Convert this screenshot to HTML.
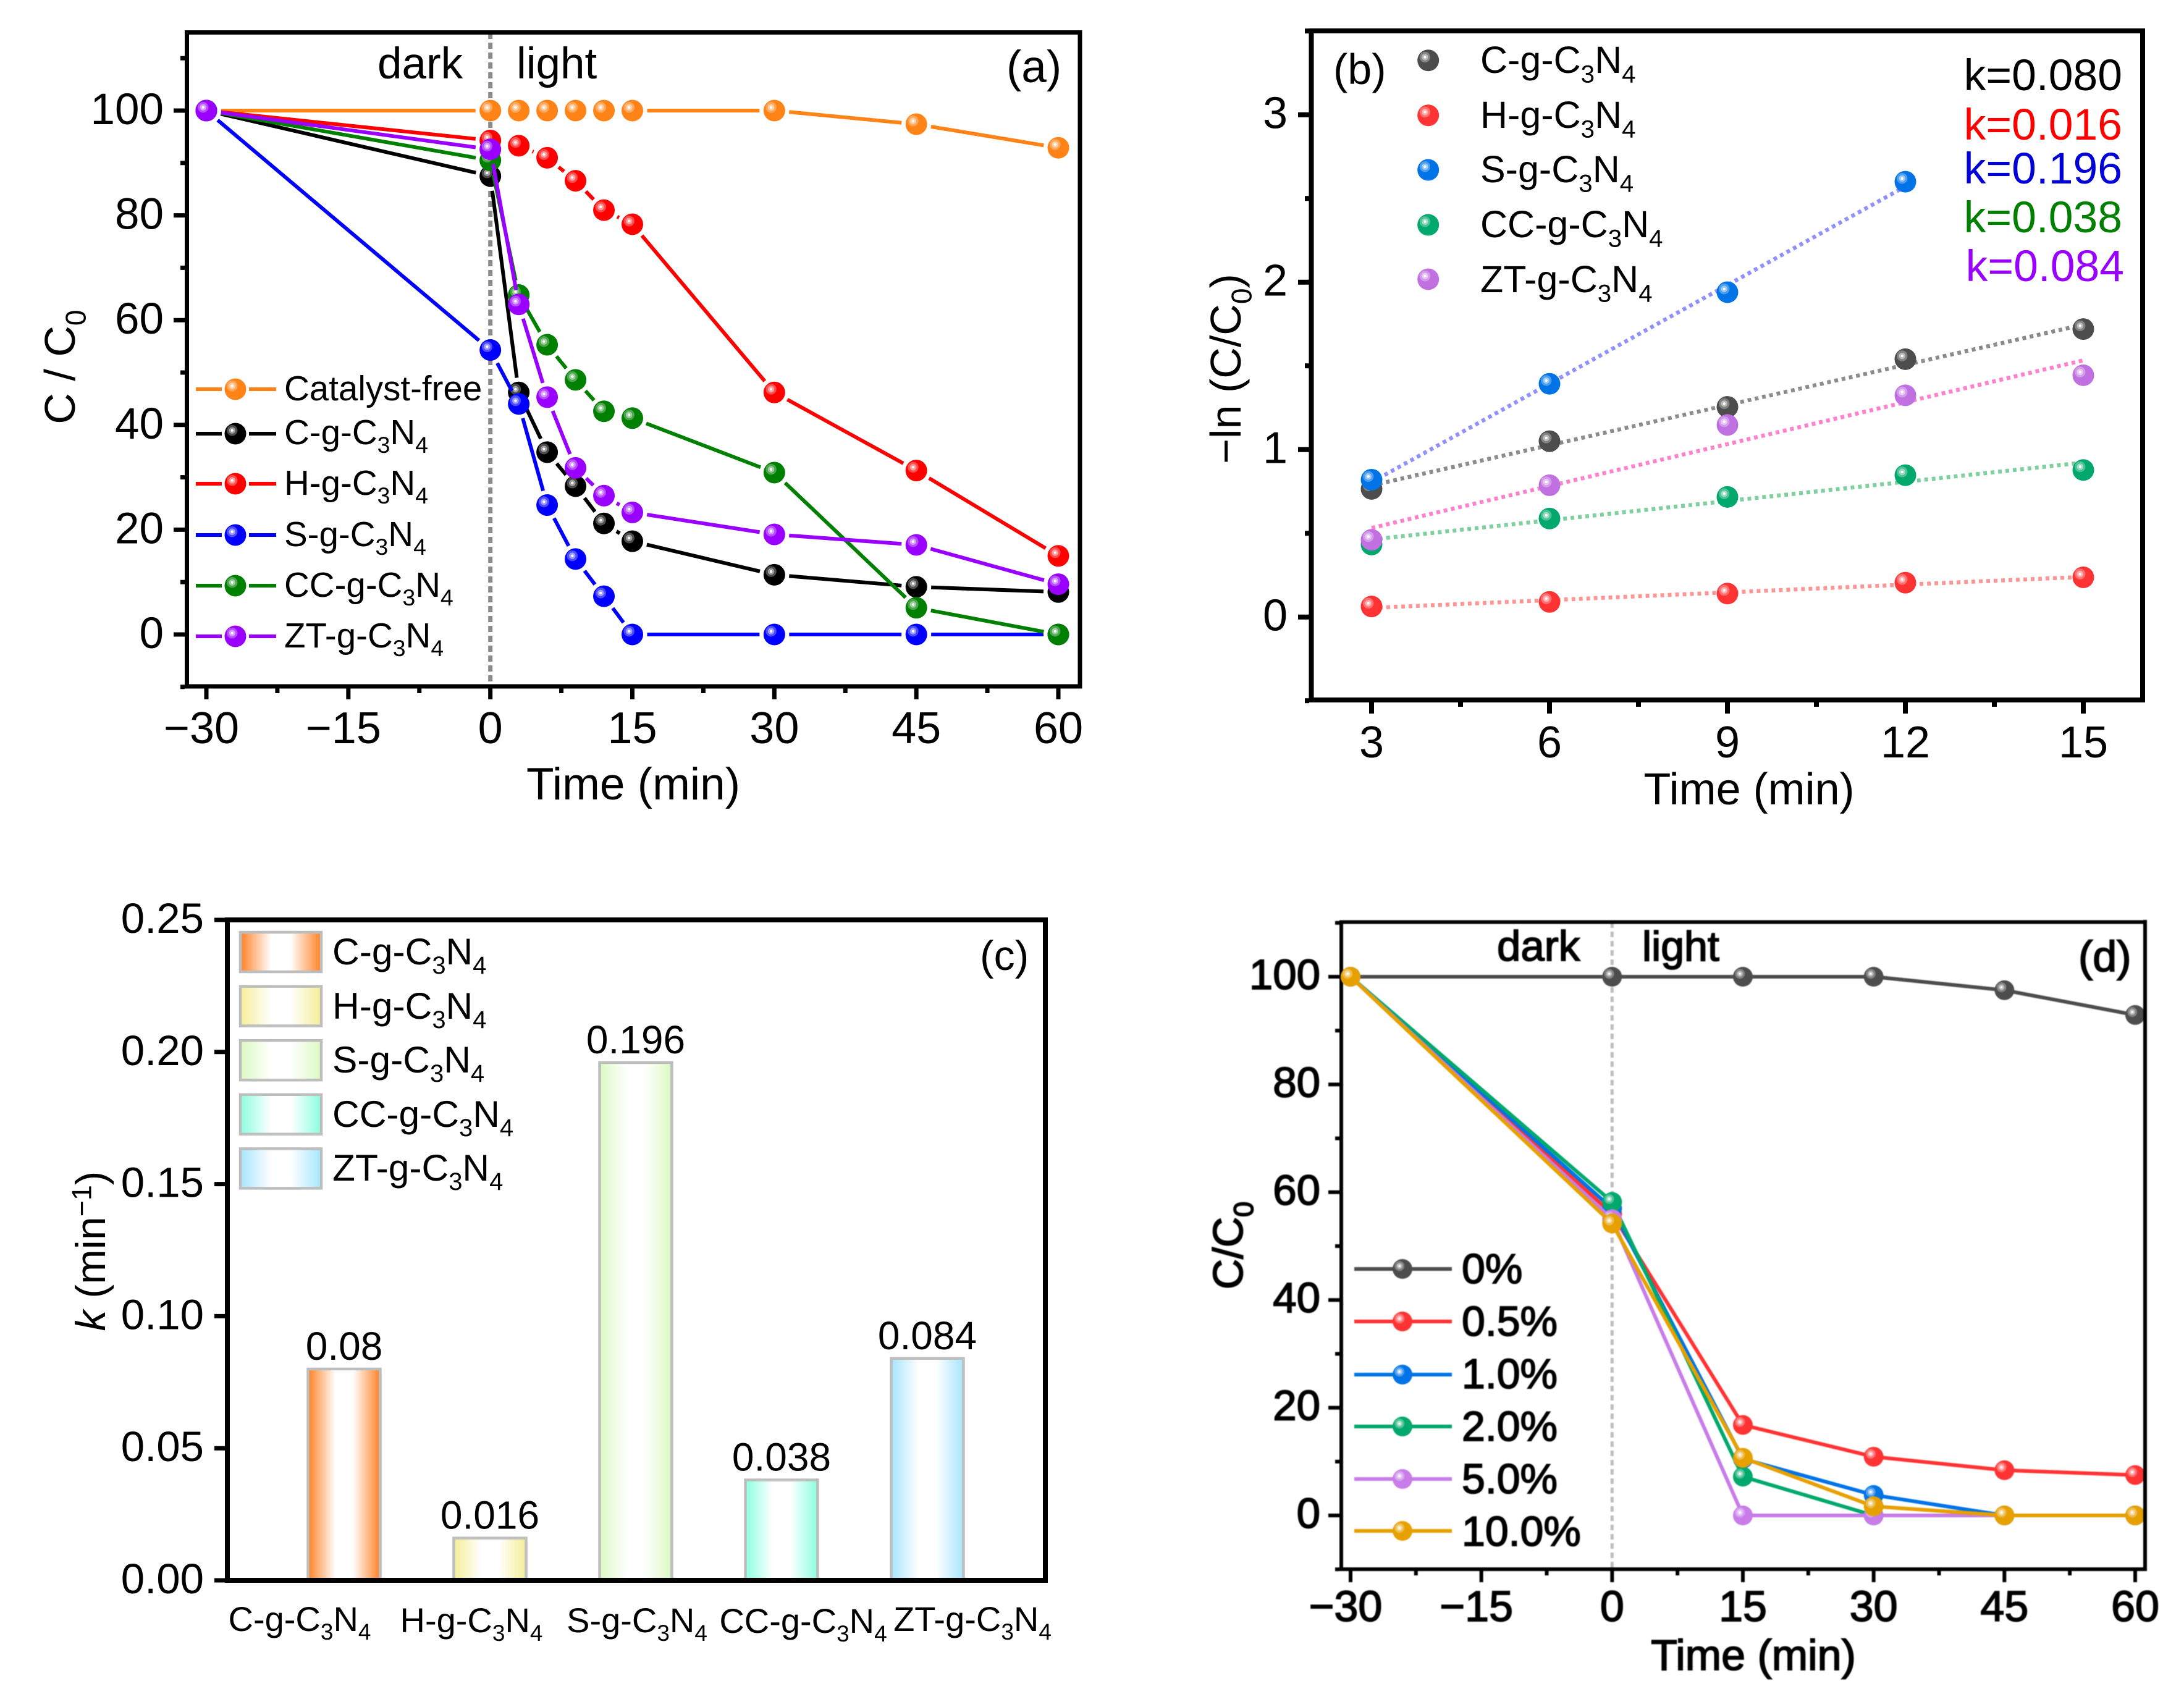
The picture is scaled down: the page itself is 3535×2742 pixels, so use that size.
<!DOCTYPE html>
<html lang="en">
<head>
<meta charset="utf-8">
<title>Photocatalytic degradation charts</title>
<style>
html,body{margin:0;padding:0;background:#fff;width:3535px;height:2742px;overflow:hidden}
svg{display:block;font-family:"Liberation Sans",sans-serif;fill:#000}
.s{font-size:.66em}
.hv{stroke:#000;stroke-width:1.8px}
.soft{filter:blur(.8px)}
</style>
</head>
<body>
<svg id="figure" xmlns="http://www.w3.org/2000/svg" width="3535" height="2742" viewBox="0 0 3535 2742">
<defs>
<linearGradient id="grad-c"><stop offset="0" stop-color="#FF8126"/><stop offset=".38" stop-color="#fff"/><stop offset=".62" stop-color="#fff"/><stop offset="1" stop-color="#FF8126"/></linearGradient>
<linearGradient id="grad-h"><stop offset="0" stop-color="#F5EE96"/><stop offset=".38" stop-color="#fff"/><stop offset=".62" stop-color="#fff"/><stop offset="1" stop-color="#F5EE96"/></linearGradient>
<linearGradient id="grad-s"><stop offset="0" stop-color="#DBF9C2"/><stop offset=".38" stop-color="#fff"/><stop offset=".62" stop-color="#fff"/><stop offset="1" stop-color="#DBF9C2"/></linearGradient>
<linearGradient id="grad-cc"><stop offset="0" stop-color="#8AFFE0"/><stop offset=".38" stop-color="#fff"/><stop offset=".62" stop-color="#fff"/><stop offset="1" stop-color="#8AFFE0"/></linearGradient>
<linearGradient id="grad-zt"><stop offset="0" stop-color="#A6E6FF"/><stop offset=".38" stop-color="#fff"/><stop offset=".62" stop-color="#fff"/><stop offset="1" stop-color="#A6E6FF"/></linearGradient>
</defs>

<g id="panel-a"></g>
<g id="panel-b"></g>
<g id="panel-c"></g>
<g id="panel-d" class="soft"></g>

<!-- Panel a text -->
<g>
<text x="611" y="127" font-size="71">dark</text>
<text x="836" y="127" font-size="71">light</text>
<text x="1629" y="133" font-size="73">(a)</text>
<text x="1025" y="1294" font-size="73" text-anchor="middle">Time (min)</text>
<text transform="translate(121,594) rotate(-90)" font-size="70" text-anchor="middle">C / C<tspan class="s" dy=".38em">0</tspan></text>
<g font-size="56.5">
<text x="460" y="648">Catalyst-free</text>
<text x="460" y="719">C-g-C<tspan class="s" dy=".38em">3</tspan><tspan dy="-.25em">N</tspan><tspan class="s" dy=".38em">4</tspan></text>
<text x="460" y="801">H-g-C<tspan class="s" dy=".38em">3</tspan><tspan dy="-.25em">N</tspan><tspan class="s" dy=".38em">4</tspan></text>
<text x="460" y="884">S-g-C<tspan class="s" dy=".38em">3</tspan><tspan dy="-.25em">N</tspan><tspan class="s" dy=".38em">4</tspan></text>
<text x="460" y="966">CC-g-C<tspan class="s" dy=".38em">3</tspan><tspan dy="-.25em">N</tspan><tspan class="s" dy=".38em">4</tspan></text>
<text x="460" y="1048">ZT-g-C<tspan class="s" dy=".38em">3</tspan><tspan dy="-.25em">N</tspan><tspan class="s" dy=".38em">4</tspan></text>
</g>
</g>

<!-- Panel b text -->
<g>
<text x="2158" y="136" font-size="70">(b)</text>
<text x="2831" y="1302" font-size="72" text-anchor="middle">Time (min)</text>
<text transform="translate(2008,597) rotate(-90)" font-size="70" text-anchor="middle">−ln (C/C<tspan class="s" dy=".38em">0</tspan><tspan dy="-.25em">)</tspan></text>
<g font-size="61">
<text x="2396" y="118">C-g-C<tspan class="s" dy=".38em">3</tspan><tspan dy="-.25em">N</tspan><tspan class="s" dy=".38em">4</tspan></text>
<text x="2396" y="207">H-g-C<tspan class="s" dy=".38em">3</tspan><tspan dy="-.25em">N</tspan><tspan class="s" dy=".38em">4</tspan></text>
<text x="2396" y="295">S-g-C<tspan class="s" dy=".38em">3</tspan><tspan dy="-.25em">N</tspan><tspan class="s" dy=".38em">4</tspan></text>
<text x="2396" y="384">CC-g-C<tspan class="s" dy=".38em">3</tspan><tspan dy="-.25em">N</tspan><tspan class="s" dy=".38em">4</tspan></text>
<text x="2396" y="473">ZT-g-C<tspan class="s" dy=".38em">3</tspan><tspan dy="-.25em">N</tspan><tspan class="s" dy=".38em">4</tspan></text>
</g>
<g font-size="71.5" text-anchor="end">
<text x="3435" y="146" fill="#000000">k=0.080</text>
<text x="3435" y="226" fill="#FF0000">k=0.016</text>
<text x="3435" y="297" fill="#0000D8">k=0.196</text>
<text x="3435" y="376" fill="#008000">k=0.038</text>
<text x="3438" y="455" fill="#9900FF">k=0.084</text>
</g>
</g>

<!-- Panel c text -->
<g>
<text x="1586" y="1570" font-size="68">(c)</text>
<text transform="translate(170,2025) rotate(-90)" font-size="68" text-anchor="middle"><tspan font-style="italic">k</tspan> (min<tspan class="s" dy="-.5em">−1</tspan><tspan dy=".33em">)</tspan></text>
<g font-size="60.5">
<text x="538" y="1561">C-g-C<tspan class="s" dy=".38em">3</tspan><tspan dy="-.25em">N</tspan><tspan class="s" dy=".38em">4</tspan></text>
<text x="538" y="1649">H-g-C<tspan class="s" dy=".38em">3</tspan><tspan dy="-.25em">N</tspan><tspan class="s" dy=".38em">4</tspan></text>
<text x="538" y="1736">S-g-C<tspan class="s" dy=".38em">3</tspan><tspan dy="-.25em">N</tspan><tspan class="s" dy=".38em">4</tspan></text>
<text x="538" y="1824">CC-g-C<tspan class="s" dy=".38em">3</tspan><tspan dy="-.25em">N</tspan><tspan class="s" dy=".38em">4</tspan></text>
<text x="538" y="1911">ZT-g-C<tspan class="s" dy=".38em">3</tspan><tspan dy="-.25em">N</tspan><tspan class="s" dy=".38em">4</tspan></text>
</g>
<g font-size="56" text-anchor="middle">
<text x="485" y="2640">C-g-C<tspan class="s" dy=".38em">3</tspan><tspan dy="-.25em">N</tspan><tspan class="s" dy=".38em">4</tspan></text>
<text x="763" y="2642">H-g-C<tspan class="s" dy=".38em">3</tspan><tspan dy="-.25em">N</tspan><tspan class="s" dy=".38em">4</tspan></text>
<text x="1031" y="2642">S-g-C<tspan class="s" dy=".38em">3</tspan><tspan dy="-.25em">N</tspan><tspan class="s" dy=".38em">4</tspan></text>
<text x="1300" y="2643">CC-g-C<tspan class="s" dy=".38em">3</tspan><tspan dy="-.25em">N</tspan><tspan class="s" dy=".38em">4</tspan></text>
<text x="1574" y="2640">ZT-g-C<tspan class="s" dy=".38em">3</tspan><tspan dy="-.25em">N</tspan><tspan class="s" dy=".38em">4</tspan></text>
</g>
</g>

<!-- Panel d text -->
<g class="hv soft">
<text x="2423" y="1555" font-size="69">dark</text>
<text x="2658" y="1555" font-size="68">light</text>
<text x="3364" y="1572" font-size="70">(d)</text>
<text x="2838" y="2703" font-size="70" text-anchor="middle">Time (min)</text>
<text transform="translate(2011,2016) rotate(-90)" font-size="68" text-anchor="middle">C/C<tspan class="s" dy=".38em">0</tspan></text>
<g font-size="68">
<text x="2366" y="2077">0%</text>
<text x="2366" y="2162">0.5%</text>
<text x="2366" y="2247">1.0%</text>
<text x="2366" y="2332">2.0%</text>
<text x="2366" y="2417">5.0%</text>
<text x="2366" y="2502">10.0%</text>
</g>
</g>
</svg>

<script>
// ---------- Panel (a) data ----------
const timeA = [-30, 0, 3, 6, 9, 12, 15, 30, 45, 60];
const catalystFree = [100, 100, 100, 100, 100, 100, 100, 100, 97.4, 92.9];
const cN = [100, 87.5, 46.2, 34.8, 28.3, 21.2, 17.8, 11.4, 9.1, 8.1];
const hN = [100, 94.3, 93.3, 91, 86.6, 81, 78.3, 46.2, 31.3, 15];
const sN = [100, 54.3, 44, 24.7, 14.4, 7.3, 0, 0, 0, 0];
const ccN = [100, 90.5, 64.8, 55.3, 48.6, 42.6, 41.3, 30.9, 5.1, 0];
const ztN = [100, 92.6, 63, 45.3, 31.8, 26.5, 23.3, 19.1, 17.1, 9.6];
const xTicksMajor = [-30, -15, 0, 15, 30, 45, 60];
const xTicksMinor = [-22.5, -7.5, 7.5, 22.5, 37.5, 52.5];
const yTicksMajorPct = [0, 20, 40, 60, 80, 100];
const yTicksMinorPct = [-10, 10, 30, 50, 70, 90, 110];

// ---------- Panel (b) data ----------
const timeB = [3, 6, 9, 12, 15];
const lnC = [0.765, 1.05, 1.255, 1.54, 1.72];
const lnH = [0.063, 0.09, 0.14, 0.205, 0.237];
const lnS = [0.82, 1.393, 1.94, 2.6];
const lnCC = [0.433, 0.588, 0.717, 0.847, 0.878];
const lnZT = [0.461, 0.787, 1.147, 1.324, 1.444];
const xTicksMajorB = [3, 6, 9, 12, 15];
const xTicksMinorB = [4.5, 7.5, 10.5, 13.5];
const yTicksMajorB = [0, 1, 2, 3];
const yTicksMinorB = [-0.5, 0.5, 1.5, 2.5, 3.5];

// ---------- Panel (c) data ----------
const rateKeys = ['c', 'h', 's', 'cc', 'zt'];
const rateValues = [0.08, 0.016, 0.196, 0.038, 0.084];
const yTicksC = [0, 0.05, 0.1, 0.15, 0.2, 0.25];

// ---------- Panel (d) data ----------
const timeD = [-30, 0, 15, 30, 45, 60];
const pct0 = [100, 100, 100, 100, 97.5, 92.9];
const pct05 = [100, 56, 16.8, 10.9, 8.4, 7.5];
const pct1 = [100, 57, 10.5, 3.8, 0, 0];
const pct2 = [100, 58.2, 7.2, 0, 0, 0];
const pct5 = [100, 55, 0, 0, 0, 0];
const pct10 = [100, 54.2, 10.7, 1.7, 0, 0];

// ---------- helpers ----------
const NS = 'http://www.w3.org/2000/svg';
function el(tag, attrs, parent) {
  const n = document.createElementNS(NS, tag);
  for (const k in attrs) n.setAttribute(k, attrs[k]);
  parent.appendChild(n);
  return n;
}
function linear(d0, d1, r0, r1) {
  return v => r0 + (v - d0) * (r1 - r0) / (d1 - d0);
}
function drawMarker(parent, cx, cy, r, color, name) {
  const g = el('g', {}, parent);
  
  
  el('circle', {cx: cx, cy: cy, r: r, fill: color}, g);
  const o = r * 0.3;
  el('circle', {cx: cx - o, cy: cy - o, r: r * 0.5, fill: '#fff', 'fill-opacity': 0.3}, g);
  el('circle', {cx: cx - o, cy: cy - o, r: r * 0.3, fill: '#fff', 'fill-opacity': 0.45}, g);
  el('circle', {cx: cx - o, cy: cy - o, r: r * 0.12, fill: '#fff'}, g);
}
function drawSegment(parent, x1, y1, x2, y2, color, width, gap, name) {
  const dx = x2 - x1, dy = y2 - y1, len = Math.hypot(dx, dy);
  if (len <= gap * 2) return;
  const ux = dx / len, uy = dy / len;
  const ln = el('line', {x1: x1 + ux * gap, y1: y1 + uy * gap, x2: x2 - ux * gap, y2: y2 - uy * gap, stroke: color, 'stroke-width': width}, parent);
  
  
}
function drawSeries(parent, xs, ys, sx, sy, color, lw, gap, r, name) {
  const g = el('g', {}, parent);
  
  
  for (let i = 0; i + 1 < ys.length; i++) {
    drawSegment(g, sx(xs[i]), sy(ys[i]), sx(xs[i + 1]), sy(ys[i + 1]), color, lw, gap, 'line-' + name);
  }
  for (let i = 0; i < ys.length; i++) {
    drawMarker(g, sx(xs[i]), sy(ys[i]), r, color, 'point-' + name);
  }
}
function drawFrame(parent, l, t, r, b, w) {
  const f = el('rect', {x: l, y: t, width: r - l, height: b - t, fill: 'none', stroke: '#000', 'stroke-width': w}, parent);
  
  
}
function drawXAxis(parent, sx, majors, minors, fmt, yBase, w, lenMaj, lenMin, labelY, fs, extraClass) {
  majors.forEach(v => {
    const t = el('line', {x1: sx(v), x2: sx(v), y1: yBase, y2: yBase + lenMaj, stroke: '#000', 'stroke-width': w}, parent);
    
    
    const lb = el('text', {x: sx(v) - (v < 0 ? 8 : 0), y: labelY, 'font-size': fs, 'text-anchor': 'middle'}, parent);
    if (extraClass) lb.setAttribute('class', extraClass);
    
    
    lb.textContent = fmt(v);
  });
  minors.forEach(v => {
    const t = el('line', {x1: sx(v), x2: sx(v), y1: yBase, y2: yBase + lenMin, stroke: '#000', 'stroke-width': w}, parent);
    
    
  });
}
function drawYAxis(parent, sy, majors, minors, fmt, xBase, w, lenMaj, lenMin, labelX, fs, off, extraClass) {
  majors.forEach(v => {
    const t = el('line', {x1: xBase, x2: xBase - lenMaj, y1: sy(v), y2: sy(v), stroke: '#000', 'stroke-width': w}, parent);
    
    
    const lb = el('text', {x: labelX, y: sy(v) + off, 'font-size': fs, 'text-anchor': 'end'}, parent);
    if (extraClass) lb.setAttribute('class', extraClass);
    
    
    lb.textContent = fmt(v);
  });
  minors.forEach(v => {
    const t = el('line', {x1: xBase, x2: xBase - lenMin, y1: sy(v), y2: sy(v), stroke: '#000', 'stroke-width': w}, parent);
    
    
  });
}
function drawLegendRow(parent, x1, x2, xm, y, color, lw, gap, r, name) {
  const g = el('g', {}, parent);
  
  
  drawSegment(g, x1, y, xm - gap, y, color, lw, 0, 'legend-line-' + name);
  drawSegment(g, xm + gap, y, x2, y, color, lw, 0, 'legend-line-' + name);
  drawMarker(g, xm, y, r, color, 'legend-marker-' + name);
}
function fmtMinus(v) {
  return String(v).replace('-', '\u2212');
}
function fit(xs, ys) {
  const n = ys.length;
  let sumX = 0, sumY = 0;
  for (let i = 0; i < n; i++) { sumX += xs[i]; sumY += ys[i]; }
  const mx = sumX / n, my = sumY / n;
  let num = 0, den = 0;
  for (let i = 0; i < n; i++) { num += (xs[i] - mx) * (ys[i] - my); den += (xs[i] - mx) * (xs[i] - mx); }
  const m = num / den;
  return v => my + m * (v - mx);
}

// ---------- Panel (a) ----------
(function () {
  const p = document.getElementById('panel-a');
  const sx = linear(-30, 60, 334, 1713);
  const sy = linear(0, 100, 1027, 179);
  const dash = el('line', {x1: sx(0), x2: sx(0), y1: 53, y2: 1111, stroke: '#8C8C8C', 'stroke-width': 7, 'stroke-dasharray': '10 6'}, p);
  
  
  drawFrame(p, 302.5, 52.5, 1748, 1111, 7);
  drawXAxis(p, sx, xTicksMajor, xTicksMinor, fmtMinus, 1114, 7, 18, 8, 1203, 72);
  drawYAxis(p, sy, yTicksMajorPct, yTicksMinorPct, fmtMinus, 299, 7, 18, 7, 265, 71, 22);
  const colors = ['#FF8316', '#000000', '#FF0000', '#0000FF', '#008000', '#9900FF'];
  const names = ['catalyst-free', 'c', 'h', 's', 'cc', 'zt'];
  const sets = [catalystFree, cN, hN, sN, ccN, ztN];
  const rows = [630, 702, 783, 866, 948, 1030];
  sets.forEach((ys, i) => {
    drawSeries(p, timeA, ys, sx, sy, colors[i], 6, 24, 17.5, names[i]);
    drawLegendRow(p, 317, 447, 381, rows[i], colors[i], 6, 22, 17.5, names[i]);
  });
})();

// ---------- Panel (b) ----------
(function () {
  const p = document.getElementById('panel-b');
  const sx = linear(2, 16, 2124, 3468);
  const sy = linear(0, 3, 998.7, 185.7);
  drawFrame(p, 2122.5, 50, 3468, 1133, 8);
  drawXAxis(p, sx, xTicksMajorB, xTicksMinorB, String, 1137, 8, 18, 7, 1226, 72);
  drawYAxis(p, sy, yTicksMajorB, yTicksMinorB, String, 2119, 8, 18, 7, 2084, 72, 22);
  const colors = ['#4D4D4D', '#FF3333', '#0073E6', '#00A86B', '#C070E0'];
  const fitColors = ['#8C8C8C', '#FF9696', '#9090FF', '#7FCF9F', '#FF80CC'];
  const names = ['c', 'h', 's', 'cc', 'zt'];
  const sets = [lnC, lnH, lnS, lnCC, lnZT];
  const rows = [97.7, 186.7, 275, 364, 452];
  sets.forEach((ys, i) => {
    const xs = timeB.slice(0, ys.length);
    const f = fit(xs, ys);
    const ln = el('line', {x1: sx(xs[0]), y1: sy(f(xs[0])), x2: sx(xs[xs.length - 1]), y2: sy(f(xs[xs.length - 1])), stroke: fitColors[i], 'stroke-width': 6.5, 'stroke-dasharray': '6 6'}, p);
    
    
  });
  sets.forEach((ys, i) => {
    const xs = timeB.slice(0, ys.length);
    drawSeries(p, xs, ys, sx, sy, colors[i], 0, 1e6, 17.5, names[i]);
    drawMarker(p, 2311.7, rows[i], 17.5, colors[i], 'legend-marker-' + names[i]);
  });
})();

// ---------- Panel (c) ----------
(function () {
  const p = document.getElementById('panel-c');
  const sy = linear(0, 0.25, 2558, 1489);
  const barCenter = i => 557 + 236 * i;
  rateValues.forEach((v, i) => {
    const key = rateKeys[i];
    const bar = el('rect', {x: barCenter(i) - 58.5, y: sy(v), width: 117, height: sy(0) - sy(v), fill: 'url(#grad-' + key + ')', stroke: '#BEBEBE', 'stroke-width': 4.5}, p);
    
    
    const lb = el('text', {x: barCenter(i), y: sy(v) - 15, 'font-size': 64, 'text-anchor': 'middle'}, p);
    
    
    lb.textContent = String(v);
    const sw = el('rect', {x: 389, y: 1509 + 87.6 * i, width: 131, height: 64, fill: 'url(#grad-' + key + ')', stroke: '#BEBEBE', 'stroke-width': 4.5}, p);
    
    
  });
  drawFrame(p, 368, 1489, 1692, 2558, 8);
  drawYAxis(p, sy, yTicksC, [], v => v.toFixed(2), 364, 7, 17, 0, 330, 69, 21);
})();

// ---------- Panel (d) ----------
(function () {
  const p = document.getElementById('panel-d');
  const sx = linear(-30, 60, 2186, 3456);
  const sy = linear(0, 100, 2453, 1581);
  const dash = el('line', {x1: sx(0), x2: sx(0), y1: 1493, y2: 2540, stroke: '#BDBDBD', 'stroke-width': 5, 'stroke-dasharray': '9 6'}, p);
  
  
  drawFrame(p, 2171, 1492.5, 3472, 2540, 6);
  drawXAxis(p, sx, xTicksMajor, xTicksMinor, fmtMinus, 2543, 6, 18, 7, 2624, 70, 'hv');
  drawYAxis(p, sy, yTicksMajorPct, yTicksMinorPct, fmtMinus, 2168, 6, 18, 7, 2137, 69, 20, 'hv');
  const colors = ['#4D4D4D', '#FF3333', '#0073E6', '#00A86B', '#C77CE8', '#E6A000'];
  const names = ['0', '0-5', '1', '2', '5', '10'];
  const sets = [pct0, pct05, pct1, pct2, pct5, pct10];
  const rows = [2054, 2139, 2225, 2309, 2394, 2478];
  sets.forEach((ys, i) => {
    drawSeries(p, timeD, ys, sx, sy, colors[i], 6, 0, 16, names[i]);
    drawLegendRow(p, 2192, 2350, 2270, rows[i], colors[i], 6, 0, 16, names[i]);
  });
  const edge = el('line', {x1: 3472, x2: 3472, y1: 1489, y2: 2543, stroke: '#000', 'stroke-width': 6}, p);
  
  
})();
</script>
</body>
</html>
